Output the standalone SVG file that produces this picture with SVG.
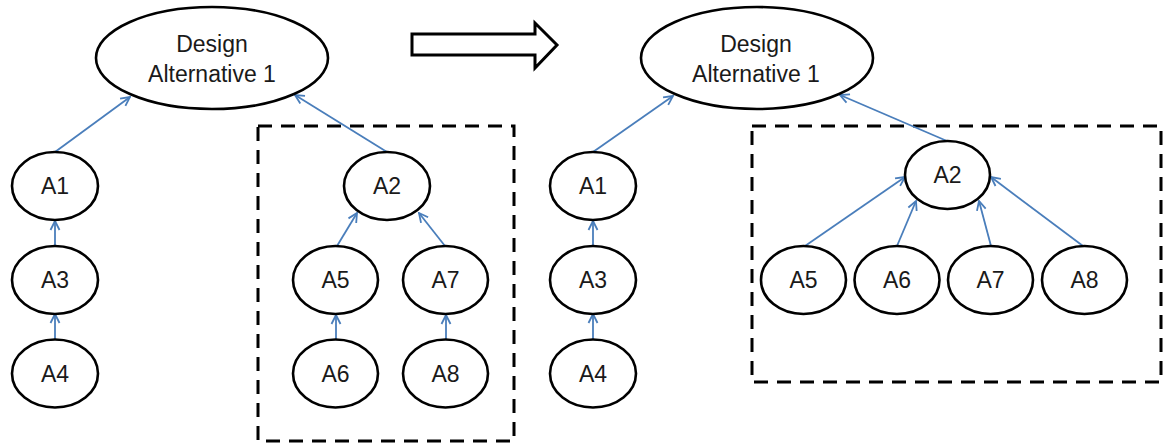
<svg xmlns="http://www.w3.org/2000/svg" width="1164" height="444" viewBox="0 0 1164 444">
<style>
.node ellipse{fill:#fff;stroke:#000;stroke-width:2.6}
.node text,.big text{font-family:"Liberation Sans",Arial,sans-serif;font-size:23px;fill:#1a1a1a;text-anchor:middle}
.conn line{stroke:#4A7EBB;stroke-width:1.8;marker-end:url(#ah)}
.box{fill:none;stroke:#000;stroke-width:3;stroke-dasharray:14 9}
.big ellipse{fill:#fff;stroke:#000;stroke-width:2.6}
</style>
<defs>
<marker id="ah" viewBox="0 0 12 12" refX="11" refY="6" markerWidth="12" markerHeight="12" markerUnits="userSpaceOnUse" orient="auto">
<path d="M2,1.5 L11,6 L2,10.5" fill="none" stroke="#4A7EBB" stroke-width="1.8"/>
</marker>
</defs>
<rect width="1164" height="444" fill="#fff"/>
<g id="boxes">
<rect class="box" x="258" y="126" width="256" height="315"/>
<rect class="box" x="752" y="126" width="409" height="256"/>
</g>
<g id="transform-arrow">
<polygon points="412,34 535,34 535,23 557,45 535,68 535,55 412,55" fill="#fff" stroke="#000" stroke-width="3" stroke-linejoin="miter"/>
</g>
<g id="connectors" class="conn">
<line x1="55" y1="152" x2="130" y2="97"/>
<line x1="55" y1="246" x2="55" y2="221"/>
<line x1="55" y1="339" x2="55" y2="314"/>
<line x1="387" y1="152" x2="295" y2="95"/>
<line x1="337" y1="246" x2="357" y2="213"/>
<line x1="445" y1="246" x2="419" y2="213"/>
<line x1="336" y1="340" x2="336" y2="315"/>
<line x1="446" y1="340" x2="446" y2="315"/>
<line x1="593" y1="152" x2="673" y2="96"/>
<line x1="593" y1="246" x2="593" y2="221"/>
<line x1="593" y1="339" x2="593" y2="314"/>
<line x1="947" y1="141" x2="840" y2="95"/>
<line x1="805" y1="246" x2="905" y2="177"/>
<line x1="897" y1="246" x2="916" y2="201"/>
<line x1="991" y1="246" x2="979" y2="201"/>
<line x1="1083" y1="246" x2="991" y2="177"/>
</g>
<g id="L-design" class="node"><ellipse cx="212" cy="58" rx="116" ry="51"/><text x="212" y="52">Design</text><text x="212" y="82">Alternative 1</text></g>
<g id="L-A1" class="node"><ellipse cx="55" cy="186" rx="43" ry="34"/><text x="55" y="194">A1</text></g>
<g id="L-A3" class="node"><ellipse cx="55" cy="280" rx="43" ry="34"/><text x="55" y="288">A3</text></g>
<g id="L-A4" class="node"><ellipse cx="55" cy="373.5" rx="43" ry="34"/><text x="55" y="381.5">A4</text></g>
<g id="L-A2" class="node"><ellipse cx="387" cy="186" rx="43" ry="34"/><text x="387" y="194">A2</text></g>
<g id="L-A5" class="node"><ellipse cx="335.5" cy="280" rx="42.5" ry="34"/><text x="335.5" y="288">A5</text></g>
<g id="L-A7" class="node"><ellipse cx="445.5" cy="280" rx="42.5" ry="34"/><text x="445.5" y="288">A7</text></g>
<g id="L-A6" class="node"><ellipse cx="335.5" cy="373.5" rx="42.5" ry="34"/><text x="335.5" y="381.5">A6</text></g>
<g id="L-A8" class="node"><ellipse cx="445.5" cy="373.5" rx="42.5" ry="34"/><text x="445.5" y="381.5">A8</text></g>
<g id="R-design" class="node"><ellipse cx="757" cy="58" rx="116" ry="51"/><text x="756" y="52">Design</text><text x="756" y="82">Alternative 1</text></g>
<g id="R-A1" class="node"><ellipse cx="593" cy="186" rx="43" ry="34"/><text x="593" y="194">A1</text></g>
<g id="R-A3" class="node"><ellipse cx="593" cy="280" rx="43" ry="34"/><text x="593" y="288">A3</text></g>
<g id="R-A4" class="node"><ellipse cx="593" cy="373.5" rx="43" ry="34"/><text x="593" y="381.5">A4</text></g>
<g id="R-A2" class="node"><ellipse cx="947.5" cy="175" rx="42.5" ry="34"/><text x="947.5" y="183">A2</text></g>
<g id="R-A5" class="node"><ellipse cx="803.5" cy="280" rx="42.5" ry="34"/><text x="803.5" y="288">A5</text></g>
<g id="R-A6" class="node"><ellipse cx="897" cy="280" rx="42.5" ry="34"/><text x="897" y="288">A6</text></g>
<g id="R-A7" class="node"><ellipse cx="990.5" cy="280" rx="42.5" ry="34"/><text x="990.5" y="288">A7</text></g>
<g id="R-A8" class="node"><ellipse cx="1084.5" cy="280" rx="42.5" ry="34"/><text x="1084.5" y="288">A8</text></g>
</svg>
